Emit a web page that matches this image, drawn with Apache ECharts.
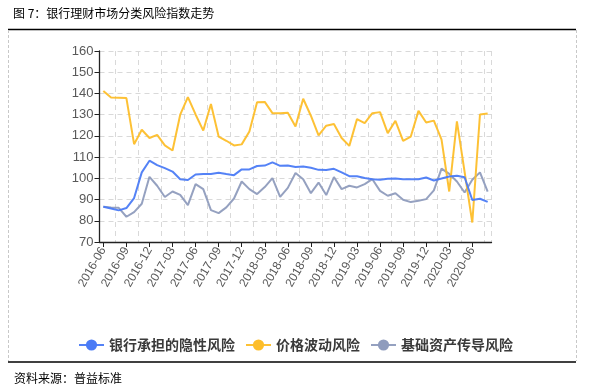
<!DOCTYPE html>
<html>
<head>
<meta charset="utf-8">
<script src="https://cdn.jsdelivr.net/npm/echarts@6/dist/echarts.min.js"></script>
<style>
html,body{margin:0;padding:0;background:#fff;}
#chart{width:591px;height:391px;}
</style>
</head>
<body>
<div id="chart"></div>
<script>
// Monthly categories 2016-06 .. 2020-08
const months = [
  '2016-06','2016-07','2016-08','2016-09','2016-10','2016-11','2016-12',
  '2017-01','2017-02','2017-03','2017-04','2017-05','2017-06','2017-07','2017-08','2017-09','2017-10','2017-11','2017-12',
  '2018-01','2018-02','2018-03','2018-04','2018-05','2018-06','2018-07','2018-08','2018-09','2018-10','2018-11','2018-12',
  '2019-01','2019-02','2019-03','2019-04','2019-05','2019-06','2019-07','2019-08','2019-09','2019-10','2019-11','2019-12',
  '2020-01','2020-02','2020-03','2020-04','2020-05','2020-06','2020-07','2020-08'
];
const seriesNames = ['银行承担的隐性风险', '价格波动风险', '基础资产传导风险'];
const implicitRisk = [
  86.6, 85.8, 84.9, 86.0, 90.7, 102.8, 108.3, 106.2, 104.8, 103.2, 99.6, 99.2, 101.8,
  102.0, 102.0, 102.6, 102.0, 101.5, 104.2, 104.2, 105.8, 106.0, 107.5, 105.9, 106.0,
  105.3, 105.6, 105.0, 104.0, 103.9, 104.5, 102.8, 101.0, 101.0, 100.2, 99.6, 99.3,
  99.8, 99.9, 99.6, 99.6, 99.6, 100.4, 99.0, 99.9, 100.9, 101.2, 100.5, 89.8, 90.4, 88.9
];
const priceRisk = [
  141.2, 138.1, 138.0, 137.8, 116.1, 122.9, 119.0, 120.5, 115.5, 113.1, 130.0, 138.3, 130.1,
  122.5, 135.0, 119.7, 117.7, 115.5, 116.0, 122.1, 135.9, 136.0, 130.7, 130.7, 130.9,
  124.4, 137.5, 129.5, 120.2, 124.8, 125.6, 119.0, 115.3, 127.9, 126.0, 130.7, 131.2,
  121.3, 127.1, 117.7, 119.7, 131.8, 126.3, 127.2, 118.2, 93.8, 126.8, 103.0, 79.2, 130.1, 130.6
];
const assetRisk = [
  86.6, 86.3, 86.1, 81.9, 84.1, 88.0, 100.7, 96.5, 91.2, 93.8, 92.2, 87.4, 97.3,
  94.9, 85.0, 83.6, 86.3, 90.5, 98.5, 94.9, 92.6, 95.9, 100.1, 91.3, 95.5,
  102.5, 99.6, 93.0, 98.0, 92.1, 100.6, 94.9, 96.5, 95.7, 97.3, 99.6, 94.1,
  91.8, 93.0, 89.9, 88.8, 89.4, 90.2, 94.3, 104.6, 102.1, 98.5, 93.3, 99.3, 102.8, 93.7
];
const yTicks = { min: 70, max: 160, step: 10 };
const titleText = '图 7：银行理财市场分类风险指数走势';
const sourceText = '资料来源：普益标准';
const colors = ['#4B7BF5', '#FDBE2A', '#8F9CBD'];

const chart = echarts.init(document.getElementById('chart'), null, { renderer: 'canvas' });
const dataSets = [implicitRisk, priceRisk, assetRisk];
const baseFont = '"Liberation Sans", "Noto Sans CJK SC", sans-serif';
const cjkFont = '"Noto Sans CJK SC", sans-serif';

chart.setOption({
  animation: false,
  backgroundColor: '#fff',
  color: colors,
  grid: { left: 99.5, right: 99.5, top: 51, bottom: 149, containLabel: false, outerBoundsMode: 'none' },
  legend: {
    left: 'center',
    top: 333,
    itemWidth: 25,
    itemHeight: 14,
    itemGap: 10,
    data: seriesNames,
    textStyle: { fontFamily: cjkFont, fontSize: 14, color: '#3a3a3a', fontWeight: 'bold' }
  },
  xAxis: {
    type: 'category',
    data: months,
    boundaryGap: true,
    axisLine: { show: true, lineStyle: { color: '#222', width: 1.3 } },
    axisTick: { show: true, alignWithLabel: true, interval: 2, length: 5, lineStyle: { color: '#222' } },
    axisLabel: { interval: 2, rotate: 60, margin: 6, fontSize: 12, color: '#595959', fontFamily: baseFont },
    splitLine: { show: true, interval: function (i) { return i % 3 === 2; }, lineStyle: { color: '#d9d9d9', type: [5, 4], width: 1 } }
  },
  yAxis: {
    type: 'value',
    min: yTicks.min,
    max: yTicks.max,
    interval: yTicks.step,
    axisLine: { show: true, lineStyle: { color: '#222', width: 1.3 } },
    axisTick: { show: true, length: 5, lineStyle: { color: '#222' } },
    axisLabel: { fontSize: 13, color: '#595959', margin: 6, fontFamily: baseFont },
    splitLine: { show: true, lineStyle: { color: '#d9d9d9', type: [5, 4], width: 1 } }
  },
  series: seriesNames.map((name, k) => ({
    name: name,
    type: 'line',
    data: dataSets[k],
    symbol: 'circle',
    symbolSize: 9,
    showSymbol: false,
    lineStyle: { width: 2, color: colors[k], opacity: 0.95 },
    itemStyle: { color: colors[k] },
    z: 3 - k
  })),
  graphic: [
    { type: 'text', left: 13, top: 7, style: { text: titleText, font: '12px ' + cjkFont, fill: '#000' } },
    { type: 'line', shape: { x1: 8, y1: 29.5, x2: 576, y2: 29.5 }, style: { stroke: '#000', lineWidth: 1.5 } },
    { type: 'line', shape: { x1: 8.5, y1: 30, x2: 8.5, y2: 361 }, style: { stroke: '#c8c8c8', lineWidth: 1, lineDash: [3, 2] } },
    { type: 'line', shape: { x1: 576.5, y1: 30, x2: 576.5, y2: 361 }, style: { stroke: '#c8c8c8', lineWidth: 1, lineDash: [3, 2] } },
    { type: 'line', shape: { x1: 8, y1: 362, x2: 576, y2: 362 }, style: { stroke: '#000', lineWidth: 1.5 } },
    { type: 'text', left: 14, top: 372, style: { text: sourceText, font: '12px ' + cjkFont, fill: '#000' } }
  ]
});
</script>
</body>
</html>
